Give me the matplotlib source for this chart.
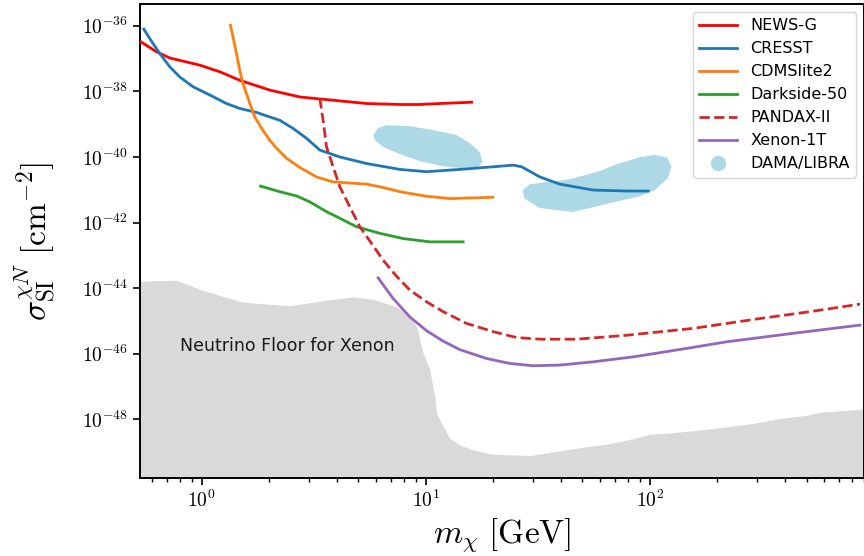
import numpy as np
import matplotlib
matplotlib.use("Agg")
import matplotlib.pyplot as plt
from matplotlib.lines import Line2D
from matplotlib.ticker import FixedLocator, LogLocator, FuncFormatter, NullLocator, NullFormatter

plt.rcParams['mathtext.fontset'] = 'cm'
plt.rcParams['font.family'] = ['DejaVu Sans']

# limits: dark matter mass [GeV] vs log10 of cross section [cm^-2]
newsg_m = [0.530, 0.628, 0.720, 0.980, 1.203, 1.477, 2.012, 2.738, 3.603, 5.437, 7.655, 9.40, 11.55, 16.0]
newsg_s = [-36.47, -36.79, -36.98, -37.20, -37.40, -37.66, -37.96, -38.17, -38.25, -38.37, -38.40,
           -38.40, -38.37, -38.33]

cresst_m = [0.551, 0.606, 0.649, 0.720, 0.798, 0.915, 1.086, 1.289, 1.477, 1.755, 2.012, 2.229, 2.556,
            2.934, 3.364, 4.131, 5.437, 7.655, 10.07, 14.19, 19.97, 24.53, 26.74, 32.28, 39.65, 55.84,
            78.70, 98.26]
cresst_s = [-36.10, -36.54, -36.84, -37.25, -37.56, -37.86, -38.11, -38.37, -38.52, -38.64, -38.78,
            -38.88, -39.13, -39.43, -39.79, -40.00, -40.20, -40.38, -40.45, -40.38, -40.30, -40.25,
            -40.30, -40.61, -40.83, -41.01, -41.04, -41.04]

cdms_m = [1.343, 1.398, 1.428, 1.477, 1.524, 1.638, 1.724, 1.872, 2.012, 2.155, 2.388, 2.738, 3.251,
          3.845, 5.437, 6.427, 7.655, 10.07, 12.80, 16.21, 19.91]
cdms_s = [-35.98, -36.53, -36.83, -37.35, -37.74, -38.36, -38.78, -39.18, -39.49, -39.73, -40.04,
          -40.32, -40.61, -40.76, -40.83, -40.93, -41.06, -41.20, -41.27, -41.25, -41.23]

ds50_m = [1.829, 2.229, 2.648, 3.035, 3.603, 4.131, 4.905, 6.232, 7.920, 10.42, 14.67]
ds50_s = [-40.89, -41.06, -41.19, -41.37, -41.67, -41.87, -42.13, -42.33, -42.49, -42.59, -42.59]

pandax_m = [3.364, 3.479, 3.603, 3.857, 4.131, 4.578, 5.074, 5.723, 6.448, 7.399, 8.483, 10.07, 11.95,
            15.20, 19.97, 25.41, 32.28, 47.09, 78.70, 156.1, 309.8, 518.0, 866.0]
pandax_s = [-38.21, -38.88, -39.69, -40.30, -40.91, -41.52, -42.13, -42.64, -43.15, -43.64, -44.06,
            -44.42, -44.72, -45.08, -45.33, -45.51, -45.56, -45.56, -45.44, -45.23, -44.93, -44.72, -44.49]

xenon_m = [6.126, 7.145, 8.483, 10.07, 11.95, 14.19, 18.66, 23.71, 30.13, 39.65, 55.84, 84.23, 131.6,
           220.0, 436.2, 866.0]
xenon_s = [-43.69, -44.32, -44.88, -45.30, -45.62, -45.88, -46.15, -46.30, -46.37, -46.35, -46.25,
           -46.10, -45.89, -45.64, -45.38, -45.13]

# neutrino floor for xenon
nu_m = [0.530, 0.771, 1.010, 1.524, 2.471, 3.603, 4.721, 5.800, 7.399, 8.483, 9.089, 9.725, 10.42,
        10.97, 11.16, 11.75, 12.80, 14.19, 16.27, 19.97, 29.13, 37.01, 52.18, 64.08, 78.70, 100.0,
        118.8, 179.1, 289.2, 380.5, 500.9, 574.1, 902.6]
nu_s = [-43.79, -43.76, -44.07, -44.43, -44.54, -44.37, -44.27, -44.34, -44.57, -44.88, -45.18, -45.99,
        -46.50, -47.32, -47.82, -48.13, -48.59, -48.79, -48.94, -49.07, -49.11, -49.00, -48.84, -48.76,
        -48.64, -48.46, -48.43, -48.31, -48.13, -47.98, -47.88, -47.79, -47.69]

# DAMA/LIBRA allowed regions (outlines)
dama1_m = [6.68, 8.48, 10.75, 13.7, 15.7, 17.4, 17.9, 17.1, 14.2, 11.9, 9.4, 7.65, 6.43, 5.92, 5.82, 6.11]
dama1_s = [-39.03, -39.06, -39.18, -39.33, -39.58, -39.85, -40.15, -40.31, -40.34, -40.28, -40.13,
           -39.91, -39.69, -39.49, -39.33, -39.12]
dama2_m = [43.9, 59.8, 71.2, 90.2, 105.0, 119.0, 125.0, 120.0, 105.0, 90.2, 66.3, 45.3, 32.3, 27.4, 27.1, 29.1]
dama2_s = [-40.68, -40.43, -40.22, -40.01, -39.94, -40.01, -40.28, -40.65, -41.01, -41.20, -41.41,
           -41.68, -41.56, -41.26, -41.01, -40.83]

fig = plt.figure(figsize=(8.64, 5.56), dpi=100)
ax = fig.add_axes([0.162, 0.140, 0.838, 0.853])

ax.fill_between(nu_m, 10.0 ** np.array(nu_s), 1e-55, color='#d9d9d9', lw=0, zorder=1)
ax.text(0.80, 10 ** -45.77, 'Neutrino Floor for Xenon', fontsize=12.5, va='center', ha='left',
        color='#1a1a1a', zorder=2)

ax.fill(dama1_m, 10.0 ** np.array(dama1_s), color='lightblue', lw=0, zorder=2)
ax.fill(dama2_m, 10.0 ** np.array(dama2_s), color='lightblue', lw=0, zorder=2)

lw = 2.0
ax.plot(newsg_m, 10.0 ** np.array(newsg_s), color='red', lw=lw, label='NEWS-G', zorder=3)
ax.plot(cresst_m, 10.0 ** np.array(cresst_s), color='#1f77b4', lw=lw, label='CRESST', zorder=3)
ax.plot(cdms_m, 10.0 ** np.array(cdms_s), color='#ff7f0e', lw=lw, label='CDMSlite2', zorder=3)
ax.plot(ds50_m, 10.0 ** np.array(ds50_s), color='#2ca02c', lw=lw, label='Darkside-50', zorder=3)
ax.plot(pandax_m, 10.0 ** np.array(pandax_s), color='#d62728', lw=lw, ls='--', label='PANDAX-II', zorder=3)
ax.plot(xenon_m, 10.0 ** np.array(xenon_s), color='#9467bd', lw=lw, label='Xenon-1T', zorder=3)

ax.set_xscale('log')
ax.set_yscale('log')
ax.set_xlim(0.53, 902)
ax.set_ylim(10 ** -49.8, 10 ** -35.33)

fmt = FuncFormatter(lambda v, p: r'$10^{%d}$' % round(np.log10(v)))
ax.yaxis.set_major_locator(FixedLocator([10.0 ** e for e in range(-48, -35, 2)]))
ax.yaxis.set_minor_locator(NullLocator())
ax.yaxis.set_major_formatter(fmt)
ax.xaxis.set_major_locator(LogLocator(base=10))
ax.xaxis.set_minor_locator(LogLocator(base=10, subs=np.arange(2, 10)))
ax.xaxis.set_major_formatter(fmt)
ax.xaxis.set_minor_formatter(NullFormatter())
ax.tick_params(which='major', length=5, width=1.2, labelsize=14)
ax.tick_params(which='minor', length=3, width=1.0)
for s in ax.spines.values():
    s.set_linewidth(1.4)

ax.set_xlabel(r'$m_\chi\ [\mathrm{GeV}]$', fontsize=24)
ax.set_ylabel(r'$\sigma_{\rm SI}^{\chi N}\ [\mathrm{cm}^{-2}]$', fontsize=24)
ax.xaxis.set_label_coords(0.5, -0.08)
ax.yaxis.set_label_coords(-0.113, 0.5)

handles, labels = ax.get_legend_handles_labels()
handles.append(Line2D([], [], ls='none', marker='o', markersize=10, color='lightblue'))
labels.append('DAMA/LIBRA')
ax.legend(handles, labels, loc='upper right', fontsize=11.5, handlelength=2.4)

fig.savefig('out.png', dpi=100)
